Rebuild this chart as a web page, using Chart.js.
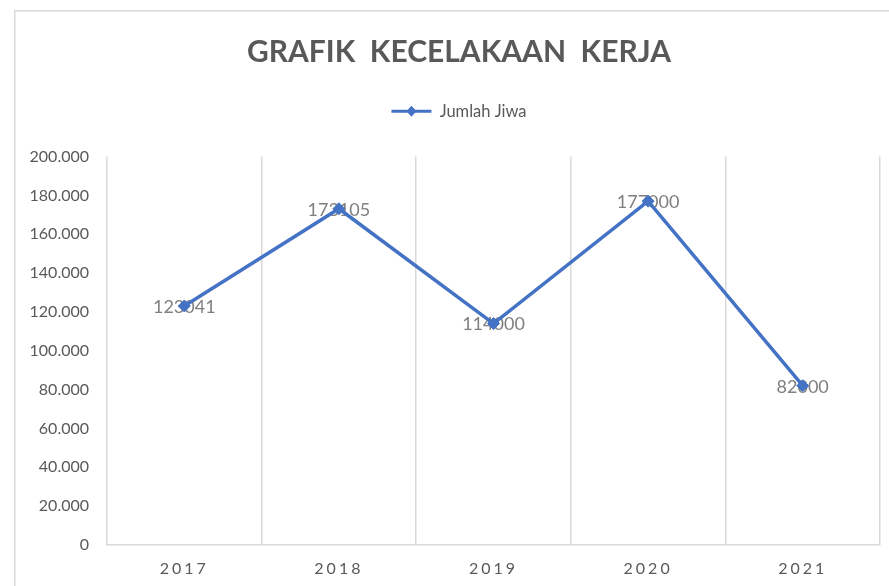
<!DOCTYPE html>
<html><head><meta charset="utf-8">
<script src="https://cdn.jsdelivr.net/npm/chart.js@4/dist/chart.umd.min.js"></script>
<style>html,body{margin:0;padding:0;background:#fff;overflow:hidden}#wrap{width:889px;height:586px;overflow:hidden;position:relative}</style>
</head><body>
<div id="wrap"><canvas id="c" width="918" height="586"></canvas></div>
<script>
const chartTitle = 'GRAFIK  KECELAKAAN  KERJA';
const seriesName = 'Jumlah Jiwa';
const categories = ['2017', '2018', '2019', '2020', '2021'];
const values = [123041, 173105, 114000, 177000, 82000];
const yMin = 0, yMax = 200000, yStep = 20000;

const BLUE = '#4472C4';
const GRID = '#d9d9d9';
const TEXT = '#595959';

function fmtDots(v) { return String(v).replace(/\B(?=(\d{3})+(?!\d))/g, '.'); }

const framePlugin = {
  id: 'frame',
  beforeDraw(chart) {
    const ctx = chart.ctx;
    ctx.save();
    ctx.fillStyle = '#fff';
    ctx.fillRect(0, 0, chart.width, chart.height);
    ctx.strokeStyle = GRID;
    ctx.lineWidth = 1.5;
    ctx.strokeRect(14.75, 10.75, 1000, 1000);
    ctx.restore();
  },
  beforeDatasetsDraw(chart) {
    const ctx = chart.ctx;
    const meta = chart.getDatasetMeta(0);
    ctx.save();
    ctx.font = '18px Lato';
    ctx.fillStyle = '#7f7f7f';
    ctx.textAlign = 'center';
    ctx.textBaseline = 'middle';
    meta.data.forEach((pt, i) => {
      ctx.fillText(String(chart.data.datasets[0].data[i]), pt.x, pt.y + 1);
    });
    ctx.restore();
  },
  afterDatasetsDraw(chart) {
    chart.ctx.letterSpacing = '3px';
  },
  afterDraw(chart) {
    const ctx = chart.ctx;
    ctx.letterSpacing = '0px';
    const lg = chart.legend;
    if (lg && lg.legendHitBoxes && lg.legendHitBoxes.length) {
      const hb = lg.legendHitBoxes[0];
      const bw = lg.options.labels.boxWidth;
      const cx = hb.left + bw / 2;
      const cy = hb.top + hb.height / 2;
      ctx.save();
      ctx.fillStyle = BLUE;
      ctx.beginPath();
      ctx.moveTo(cx, cy - 5.5); ctx.lineTo(cx + 5, cy); ctx.lineTo(cx, cy + 5.5); ctx.lineTo(cx - 5, cy);
      ctx.closePath(); ctx.fill();
      ctx.restore();
    }
  }
};

new Chart(document.getElementById('c'), {
  type: 'line',
  data: {
    labels: categories,
    datasets: [{
      label: seriesName,
      data: values,
      borderColor: BLUE,
      backgroundColor: BLUE,
      borderWidth: 3.5,
      pointStyle: 'rectRot',
      pointRadius: 6,
      pointBackgroundColor: BLUE,
      pointBorderColor: BLUE,
      pointBorderWidth: 1,
      tension: 0
    }]
  },
  options: {
    responsive: false,
    animation: false,
    devicePixelRatio: 1,
    layout: { padding: 0 },
    plugins: {
      tooltip: { enabled: false },
      title: {
        display: true,
        text: chartTitle,
        color: TEXT,
        font: { family: 'Lato', size: 30, weight: 'bold', lineHeight: 1.2 },
        padding: { top: 34, bottom: 5 },
        z: 1
      },
      legend: {
        display: true,
        position: 'top',
        labels: {
          color: TEXT,
          font: { family: 'Lato', size: 16.5 },
          boxWidth: 40,
          boxHeight: 3,
          padding: 28,
          generateLabels(chart) {
            return Chart.defaults.plugins.legend.labels.generateLabels(chart)
              .map(l => Object.assign(l, { lineWidth: 0, fillStyle: BLUE }));
          }
        }
      }
    },
    scales: {
      x: {
        type: 'category',
        offset: true,
        grid: { offset: true, color: GRID, lineWidth: 1.5, drawTicks: false },
        border: { color: GRID, width: 1.5 },
        ticks: { color: TEXT, font: { family: 'Lato', size: 16 }, padding: 14, maxRotation: 0, z: 1 },
        afterFit(s) { s.height = 41; }
      },
      xTopSpace: {
        type: 'linear',
        position: 'top',
        display: true,
        grid: { display: false, drawTicks: false },
        border: { display: false },
        ticks: { display: false },
        afterFit(s) { s.height = 27; }
      },
      y: {
        min: yMin, max: yMax,
        grid: { display: false, drawTicks: false },
        border: { display: false },
        ticks: {
          stepSize: yStep,
          color: TEXT,
          font: { family: 'Lato', size: 16 },
          padding: 18,
          callback: v => fmtDots(v)
        },
        afterFit(s) { s.width = 107; }
      },
      yRightSpace: {
        type: 'linear',
        position: 'right',
        display: true,
        grid: { display: false, drawTicks: false },
        border: { display: false },
        ticks: { display: false },
        afterFit(s) { s.width = 38; }
      }
    }
  },
  plugins: [framePlugin]
});
</script>
</body></html>
